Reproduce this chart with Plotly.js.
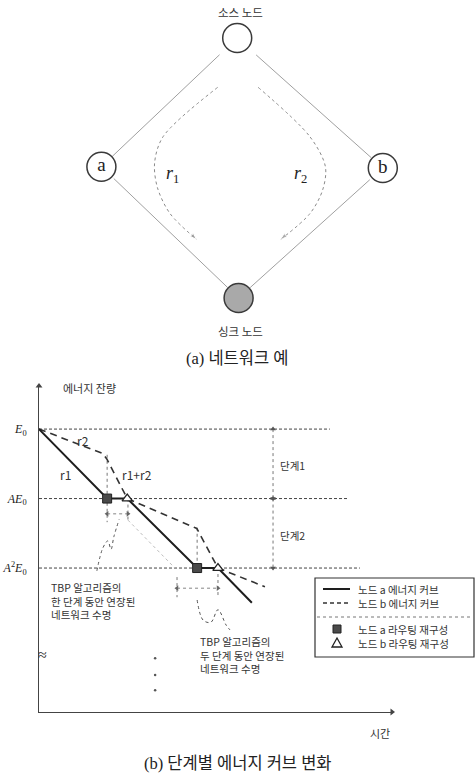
<!DOCTYPE html>
<html>
<head>
<meta charset="utf-8">
<script src="https://cdn.plot.ly/plotly-3.0.1.min.js"></script>
<style>
  html, body { margin: 0; padding: 0; background: #fff; }
  #chart { width: 475px; height: 774px; }
</style>
</head>
<body>
<div id="chart"></div>
<script>
// (a) 네트워크 예 : node positions in diagram units
const nodeX = [-0.02, -0.99, 1.02, -0.01];
const nodeY = [1.0, 0.01, 0.0, -1.0];
const nodeFill = ['#ffffff', '#ffffff', '#ffffff', '#a9a9a9'];
const labelNodes = [1, 2];
const labelText = ['a', 'b'];
const edgeFrom = [0, 0, 1, 2];
const edgeTo = [1, 2, 3, 3];
const route1X = [-0.16, -0.55, -0.61, -0.59, -0.5, -0.31];
const route1Y = [0.62, 0.24, 0.04, -0.15, -0.35, -0.55];
const route2X = [0.13, 0.5, 0.61, 0.59, 0.5, 0.29];
const route2Y = [0.62, 0.24, 0.01, -0.17, -0.35, -0.55];

// (b) 단계별 에너지 커브 변화
const nodeATime = [0, 1.93, 2.5, 4.48, 5.07, 6.03];
const nodeAEnergy = [3, 2, 2, 1, 1, 0.5];
const nodeBTime = [0, 1.8, 1.92, 2.5, 4.47, 5.07, 6.4];
const nodeBEnergy = [3, 2.65, 2.57, 2, 1.57, 1, 0.73];
const reconfATime = [1.93, 4.48];
const reconfAEnergy = [2, 1];
const reconfBTime = [2.5, 5.07];
const reconfBEnergy = [2, 1];
const levelValues = [3, 2, 1];
const levelLabels = ['<i>E</i><sub>0</sub>', '<i>AE</i><sub>0</sub>', '<i>A</i><sup>2</sup><i>E</i><sub>0</sub>'];
const levelEnds = [8.24, 8.73, 9.09];
const stageNames = ['단계1', '단계2'];
const stageTop = [3, 2];
const stageBottom = [2, 1];
const guideTime = [1.93, 2.52, 4.48, 3.91, 5.07];
const guideTop = [2.63, 2.0, 1.58, 0.87, 1.0];
const guideBottom = [1.66, 1.66, 1.0, 0.58, 0.58];
const bracketLeft = [1.93, 3.91];
const bracketRight = [2.52, 5.07];
const bracketLevel = [1.78, 0.71];
const fadeTime = [2.52, 3.85];
const fadeEnergy = [1.69, 1.0];
const pointer1Time = [1.64, 1.81, 1.95, 2.04, 2.12, 2.27];
const pointer1Energy = [0.96, 1.29, 1.39, 1.27, 1.45, 1.7];
const pointer2Time = [4.48, 4.65, 4.87, 5.07, 5.3, 5.41];
const pointer2Energy = [0.54, 0.25, 0.22, 0.4, 0.18, 0.11];
const dotsTime = [3.29, 3.29, 3.29];
const dotsEnergy = [-0.3, -0.54, -0.76];
const timeRange = [0, 10];
const energyRange = [-1.072, 3.62];

const W = 475, H = 774;
const px = v => v / W;
const py = v => 1 - v / H;
const KR = 'Noto Sans CJK KR, sans-serif';
const SERIF = 'Liberation Serif, Noto Sans CJK KR, serif';

// edges, trimmed a little so they stop short of the circles
const edgeXs = [], edgeYs = [];
edgeFrom.forEach((f, i) => {
  const t = edgeTo[i];
  const s = f === 0 ? 0.13 : 0.09;
  const e = 0.08;
  const dx = nodeX[t] - nodeX[f], dy = nodeY[t] - nodeY[f];
  edgeXs.push(nodeX[f] + dx * s, nodeX[f] + dx * (1 - e), null);
  edgeYs.push(nodeY[f] + dy * s, nodeY[f] + dy * (1 - e), null);
});

function routeTrace(xs, ys) {
  return {
    x: xs, y: ys, xaxis: 'x2', yaxis: 'y2', type: 'scatter', mode: 'lines+markers',
    line: { color: '#8a8a8a', width: 1, dash: 'dot', shape: 'spline', smoothing: 0.9 },
    marker: { symbol: 'arrow', angleref: 'previous', color: '#8a8a8a',
      size: xs.map((_, i) => (i === xs.length - 1 ? 7 : 0)) },
    hoverinfo: 'skip'
  };
}

function segs(xs0, xs1, ys0, ys1) {
  const x = [], y = [];
  xs0.forEach((_, i) => { x.push(xs0[i], xs1[i], null); y.push(ys0[i], ys1[i], null); });
  return { x, y };
}

const levelSeg = segs(levelValues.map(() => 0), levelEnds, levelValues, levelValues);
const guideSeg = segs(guideTime, guideTime, guideTop, guideBottom);
const stageSeg = segs(stageNames.map(() => 6.63), stageNames.map(() => 6.63), stageTop, stageBottom);
const bracketSeg = segs(bracketLeft, bracketRight, bracketLevel, bracketLevel);

// double-headed arrows: a dotted segment with a triangle at each end
function arrowTrace(seg, sym0, sym1, color) {
  return {
    x: seg.x, y: seg.y, type: 'scatter', mode: 'lines+markers', cliponaxis: false,
    line: { color, width: 0.8, dash: 'dot' },
    marker: { symbol: seg.x.map((v, i) => (i % 3 === 0 ? sym0 : sym1)), size: 5, color },
    hoverinfo: 'skip'
  };
}

const data = [
  { x: edgeXs, y: edgeYs, xaxis: 'x2', yaxis: 'y2', type: 'scatter', mode: 'lines',
    line: { color: '#a0a0a0', width: 1 }, hoverinfo: 'skip' },
  routeTrace(route1X, route1Y),
  routeTrace(route2X, route2Y),
  { x: nodeX, y: nodeY, xaxis: 'x2', yaxis: 'y2', type: 'scatter', mode: 'markers',
    marker: { size: 29, color: nodeFill, line: { color: '#3a3a3a', width: 1.5 } },
    hoverinfo: 'skip' },
  { x: labelNodes.map(i => nodeX[i]), y: labelNodes.map(i => nodeY[i]), text: labelText,
    xaxis: 'x2', yaxis: 'y2', type: 'scatter', mode: 'text', textposition: 'middle center',
    textfont: { family: SERIF, size: 19, color: '#222' }, hoverinfo: 'skip' },

  { x: levelSeg.x, y: levelSeg.y, type: 'scatter', mode: 'lines',
    line: { color: '#444', width: 1, dash: '3px,2px' }, hoverinfo: 'skip' },
  { x: guideSeg.x, y: guideSeg.y, type: 'scatter', mode: 'lines',
    line: { color: '#777', width: 1, dash: 'dot' }, hoverinfo: 'skip' },
  arrowTrace(stageSeg, 'triangle-up', 'triangle-down', '#555'),
  arrowTrace(bracketSeg, 'triangle-left', 'triangle-right', '#666'),
  { x: fadeTime, y: fadeEnergy, type: 'scatter', mode: 'lines',
    line: { color: '#bdbdbd', width: 1, dash: 'dot' }, hoverinfo: 'skip' },
  { x: nodeBTime, y: nodeBEnergy, type: 'scatter', mode: 'lines', name: '노드 b 에너지 커브',
    line: { color: '#333', width: 1.6, dash: '7px,5px' } },
  { x: nodeATime, y: nodeAEnergy, type: 'scatter', mode: 'lines', name: '노드 a 에너지 커브',
    line: { color: '#1e1e1e', width: 2 } },
  { x: reconfATime, y: reconfAEnergy, type: 'scatter', mode: 'markers', name: '노드 a 라우팅 재구성',
    marker: { symbol: 'square', size: 9, color: '#4a4a4a', line: { color: '#222', width: 1 } } },
  { x: reconfBTime, y: reconfBEnergy, type: 'scatter', mode: 'markers', name: '노드 b 라우팅 재구성',
    marker: { symbol: 'triangle-up', size: 9, color: '#fff', line: { color: '#222', width: 1.3 } } },
  { x: pointer1Time, y: pointer1Energy, type: 'scatter', mode: 'lines',
    line: { color: '#555', width: 1, dash: 'dot', shape: 'spline' }, hoverinfo: 'skip' },
  { x: pointer2Time, y: pointer2Energy, type: 'scatter', mode: 'lines',
    line: { color: '#555', width: 1, dash: 'dot', shape: 'spline' }, hoverinfo: 'skip' },
  { x: dotsTime, y: dotsEnergy, type: 'scatter', mode: 'markers',
    marker: { color: '#555', size: 2.5 }, hoverinfo: 'skip' },
  // axis arrowheads
  { x: [timeRange[0], timeRange[1]], y: [energyRange[1], energyRange[0]], type: 'scatter',
    mode: 'markers', cliponaxis: false,
    marker: { symbol: ['triangle-up', 'triangle-right'], size: 6, color: '#444' }, hoverinfo: 'skip' }
];

const txt = (text, x, y, size, extra) => Object.assign({
  text, x, y, xref: 'paper', yref: 'paper', showarrow: false,
  xanchor: 'center', yanchor: 'middle',
  font: { family: KR, size, color: '#333' }
}, extra || {});

const annotations = [
  // diagram labels
  txt('소스 노드', 0, 1.2, 11.5, { xref: 'x2', yref: 'y2' }),
  txt('싱크 노드', 0, -1.25, 11.5, { xref: 'x2', yref: 'y2' }),
  txt('<i>r</i><sub>1</sub>', -0.48, -0.05, 18, { xref: 'x2', yref: 'y2', font: { family: SERIF, size: 18, color: '#222' } }),
  txt('<i>r</i><sub>2</sub>', 0.43, -0.05, 18, { xref: 'x2', yref: 'y2', font: { family: SERIF, size: 18, color: '#222' } }),
  txt('(a) 네트워크 예', px(237), py(358), 16, { font: { family: SERIF, size: 16.5, color: '#222' } }),
  txt('(b) 단계별 에너지 커브 변화', px(238), py(763), 16, { font: { family: SERIF, size: 16.5, color: '#222' } }),
  // axis labels
  txt('에너지 잔량', px(89), py(388), 11),
  txt('시간', px(380), py(733), 11),
  txt('≈', 0.1, -0.25, 15, { xref: 'x', yref: 'y', font: { family: SERIF, size: 16, color: '#333' } }),
  // curve labels
  txt('r2', 1.25, 2.84, 12, { xref: 'x', yref: 'y' }),
  txt('r1', 0.74, 2.34, 12, { xref: 'x', yref: 'y' }),
  txt('r1+r2', 2.78, 2.34, 12, { xref: 'x', yref: 'y' }),
  // explanatory notes
  txt('TBP 알고리즘의<br>한 단계 동안 연장된<br>네트워크 수명', 0.28, 0.52, 10.5,
    { xref: 'x', yref: 'y', xanchor: 'left', align: 'left' }),
  txt('TBP 알고리즘의<br>두 단계 동안 연장된<br>네트워크 수명', 4.5, -0.25, 10.5,
    { xref: 'x', yref: 'y', xanchor: 'left', align: 'left' })
];

stageNames.forEach((name, i) => {
  annotations.push(txt(name, 7.17, (stageTop[i] + stageBottom[i]) / 2 - 0.03, 10.5, { xref: 'x', yref: 'y' }));
});

// legend box drawn by hand
const legendRows = [589, 603, 629, 643];
const legendNames = ['노드 a 에너지 커브', '노드 b 에너지 커브', '노드 a 라우팅 재구성', '노드 b 라우팅 재구성'];
legendNames.forEach((n, i) => {
  annotations.push(txt(n, px(356), py(legendRows[i]), 10.5, { xanchor: 'left' }));
});

const shapes = [
  { type: 'rect', xref: 'paper', yref: 'paper', x0: px(315), x1: px(474), y0: py(657), y1: py(578),
    line: { color: '#333', width: 1.2 }, fillcolor: 'rgba(0,0,0,0)' },
  { type: 'line', xref: 'paper', yref: 'paper', x0: px(317), x1: px(472), y0: py(617), y1: py(617),
    line: { color: '#777', width: 1, dash: 'dot' } },
  { type: 'line', xref: 'paper', yref: 'paper', x0: px(323), x1: px(350), y0: py(589), y1: py(589),
    line: { color: '#1e1e1e', width: 2 } },
  { type: 'line', xref: 'paper', yref: 'paper', x0: px(323), x1: px(350), y0: py(603), y1: py(603),
    line: { color: '#333', width: 1.5, dash: '4px,3px' } },
  { type: 'rect', xref: 'paper', yref: 'paper', x0: px(333), x1: px(341), y0: py(633), y1: py(625),
    line: { color: '#222', width: 1 }, fillcolor: '#4a4a4a' },
  { type: 'path', xref: 'paper', yref: 'paper',
    path: `M ${px(337)} ${py(638)} L ${px(342)} ${py(647)} L ${px(332)} ${py(647)} Z`,
    line: { color: '#222', width: 1.3 }, fillcolor: '#fff' }
];

const layout = {
  width: W, height: H,
  margin: { l: 0, r: 0, t: 0, b: 0 },
  paper_bgcolor: '#fff', plot_bgcolor: 'rgba(0,0,0,0)',
  showlegend: false,
  xaxis: { domain: [px(39), px(392)], range: timeRange, showline: true, linecolor: '#444',
    linewidth: 1, showgrid: false, zeroline: false, showticklabels: false, ticks: '', anchor: 'y' },
  yaxis: { domain: [py(712), py(386)], range: energyRange, showline: true, linecolor: '#444',
    linewidth: 1, showgrid: false, zeroline: false, ticks: '', anchor: 'x',
    tickvals: levelValues, ticktext: levelLabels, ticklabelstandoff: 9,
    tickfont: { family: SERIF, size: 12, color: '#222' } },
  xaxis2: { domain: [0, 1], range: [-240 / 140, 235 / 140], visible: false, anchor: 'y2' },
  yaxis2: { domain: [py(345), 1], range: [(168 - 345) / 130, 168 / 130], visible: false, anchor: 'x2' },
  annotations, shapes
};

Plotly.newPlot('chart', data, layout, { displayModeBar: false, staticPlot: true });
</script>
</body>
</html>
